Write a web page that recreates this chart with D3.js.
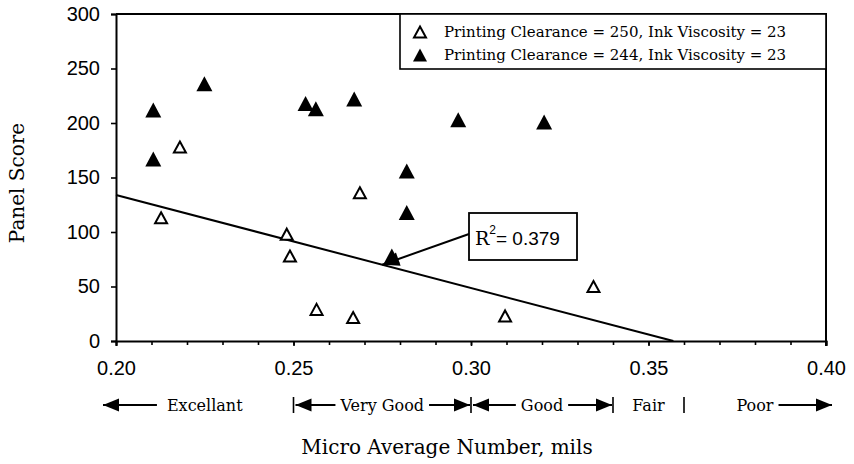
<!DOCTYPE html>
<html><head><meta charset="utf-8">
<script src="https://cdn.jsdelivr.net/npm/d3@7"></script>
<style>
html,body{margin:0;padding:0;background:#fff;}
svg{display:block;}
</style></head><body>
<svg id="chart" width="854" height="464"></svg>
<script>
// Panel score against micro average number for two printing clearances
const clearance250X = [0.2127, 0.2180, 0.2481, 0.2490, 0.2565, 0.2668, 0.2687, 0.3096, 0.3345];
const clearance250Y = [113, 178, 98, 78, 29, 21.5, 136, 23, 50];
const clearance244X = [0.2105, 0.2105, 0.2249, 0.2534, 0.2563, 0.2671, 0.2777, 0.2819, 0.2819, 0.2964, 0.3206];
const clearance244Y = [212, 167, 236, 218, 213, 222, 78, 156, 118, 203, 201];
const seriesLabels = ["Printing Clearance = 250, Ink Viscosity = 23",
                      "Printing Clearance = 244, Ink Viscosity = 23"];
// fitted trend line end points
const trendX = [0.20, 0.357];
const trendY = [134, 0];
const rSquared = "0.379";
const rSquaredTargetX = 0.275;
// axes
const xTicks = [0.20, 0.25, 0.30, 0.35, 0.40];
const yTicks = [0, 50, 100, 150, 200, 250, 300];
const xTitle = "Micro Average Number, mils";
const yTitle = "Panel Score";
// quality rating bands under the axis
const ratingLabels = ["Excellant", "Very Good", "Good", "Fair", "Poor"];
const ratingBounds = [0.20, 0.25, 0.30, 0.34, 0.36, 0.40];
const ratingLeft  = ["arrow", "barArrow", "barArrow", "bar", "none"];
const ratingRight = ["none", "arrow", "arrow", "bar", "arrow"];

const svg = d3.select("#chart");
const W = 854, H = 464;
const m = {left: 116, right: 28, top: 14, bottom: 123};
const x = d3.scaleLinear().domain([0.20, 0.40]).range([m.left, W - m.right]);
const y = d3.scaleLinear().domain([0, 300]).range([H - m.bottom, m.top]);

const SANS = "'Liberation Sans', Arial, sans-serif";
const SERIF = "'DejaVu Serif', serif";

// minor x ticks every 0.01
const minorAxis = d3.axisBottom(x).tickValues(d3.range(0, 21).map(i => 0.20 + i * 0.01))
  .tickSize(4).tickFormat("");
svg.append("g").attr("transform", `translate(0,${y(0)})`).call(minorAxis)
  .call(g => g.select(".domain").remove())
  .call(g => g.selectAll("line").attr("stroke", "#000").attr("stroke-width", 1.6));

const xAxis = d3.axisBottom(x).tickValues(xTicks).tickSize(5).tickPadding(15)
  .tickFormat(d3.format(".2f"));
svg.append("g").attr("transform", `translate(0,${y(0)})`).call(xAxis)
  .call(g => g.select(".domain").attr("stroke", "#000").attr("stroke-width", 2))
  .call(g => g.selectAll("line").attr("stroke", "#000").attr("stroke-width", 1.6))
  .call(g => g.selectAll("text").attr("font-family", SANS).attr("font-size", 20).attr("fill", "#000"));

const yAxis = d3.axisLeft(y).tickValues(yTicks).tickSize(5).tickPadding(11);
svg.append("g").attr("transform", `translate(${x(0.20)},0)`).call(yAxis)
  .call(g => g.select(".domain").attr("stroke", "#000").attr("stroke-width", 2))
  .call(g => g.selectAll("line").attr("stroke", "#000").attr("stroke-width", 1.6))
  .call(g => g.selectAll("text").attr("font-family", SANS).attr("font-size", 20).attr("fill", "#000"));

// frame: top and right edges
svg.append("path")
  .attr("d", `M${x(0.20)},${y(300)}H${x(0.40)}V${y(0) + 5}`)
  .attr("fill", "none").attr("stroke", "#000").attr("stroke-width", 2);

// trend line
svg.append("path")
  .datum(trendX.map((v, i) => [v, trendY[i]]))
  .attr("d", d3.line().x(d => x(d[0])).y(d => y(d[1])))
  .attr("fill", "none").attr("stroke", "#000").attr("stroke-width", 2);

function tri(w, h) {
  return `M0,${-h / 2}L${w / 2},${h / 2}L${-w / 2},${h / 2}Z`;
}

// series markers
svg.append("g").selectAll("path")
  .data(clearance250X.map((v, i) => [v, clearance250Y[i]]))
  .join("path")
  .attr("transform", d => `translate(${x(d[0])},${y(d[1])})`)
  .attr("d", tri(12, 11))
  .attr("fill", "#fff").attr("stroke", "#000").attr("stroke-width", 2).attr("stroke-linejoin", "miter");

svg.append("g").selectAll("path")
  .data(clearance244X.map((v, i) => [v, clearance244Y[i]]))
  .join("path")
  .attr("transform", d => `translate(${x(d[0])},${y(d[1])})`)
  .attr("d", tri(16, 15))
  .attr("fill", "#000");

// R squared callout
const trendAt = v => trendY[0] + (trendY[1] - trendY[0]) * (v - trendX[0]) / (trendX[1] - trendX[0]);
const tipX = x(rSquaredTargetX), tipY = y(trendAt(rSquaredTargetX));
const boxX = 469, boxY = 213, boxW = 108, boxH = 47;
const startX = boxX, startY = boxY + 21;
svg.append("line").attr("x1", startX).attr("y1", startY).attr("x2", tipX).attr("y2", tipY)
  .attr("stroke", "#000").attr("stroke-width", 2);
{
  const ang = Math.atan2(tipY - startY, tipX - startX);
  const L = 17, hw = 7;
  const bx = tipX - L * Math.cos(ang), by = tipY - L * Math.sin(ang);
  const px = -Math.sin(ang) * hw, py = Math.cos(ang) * hw;
  svg.append("path")
    .attr("d", `M${tipX},${tipY}L${bx + px},${by + py}L${bx - px},${by - py}Z`)
    .attr("fill", "#000");
}
svg.append("rect").attr("x", boxX).attr("y", boxY).attr("width", boxW).attr("height", boxH)
  .attr("fill", "#fff").attr("stroke", "#000").attr("stroke-width", 1.8);
const r2 = svg.append("text").attr("x", boxX + 6).attr("y", boxY + 32)
  .attr("font-size", 19).attr("fill", "#000");
r2.append("tspan").attr("font-family", SERIF).text("R");
r2.append("tspan").attr("font-family", SANS).attr("font-size", 12).attr("dy", -11).text("2");
r2.append("tspan").attr("font-family", SANS).attr("dy", 11).text("= " + rSquared);

// legend
const lg = svg.append("g");
lg.append("rect").attr("x", 400).attr("y", y(300)).attr("width", x(0.40) - 400).attr("height", 55)
  .attr("fill", "#fff").attr("stroke", "#000").attr("stroke-width", 1.6);
seriesLabels.forEach((s, i) => {
  const cy = 32 + i * 23;
  lg.append("path").attr("transform", `translate(420,${cy})`)
    .attr("d", i === 0 ? tri(12, 11) : tri(14, 13))
    .attr("fill", i === 0 ? "#fff" : "#000")
    .attr("stroke", i === 0 ? "#000" : "none").attr("stroke-width", 2);
  lg.append("text").attr("x", 444).attr("y", cy).attr("dy", "0.35em")
    .attr("font-family", SERIF).attr("font-size", 15).attr("fill", "#000").text(s);
});

// rating bands
const rowY = 405;
const rg = svg.append("g");
function head(tx, dir) {
  const L = 16, hw = 6.5;
  rg.append("path").attr("d", `M${tx},${rowY}L${tx - dir * L},${rowY - hw}L${tx - dir * L},${rowY + hw}Z`)
    .attr("fill", "#000");
}
function hline(a, b) {
  rg.append("line").attr("x1", a).attr("x2", b).attr("y1", rowY).attr("y2", rowY)
    .attr("stroke", "#000").attr("stroke-width", 2);
}
function bar(bx) {
  rg.append("line").attr("x1", bx).attr("x2", bx).attr("y1", rowY - 8).attr("y2", rowY + 8)
    .attr("stroke", "#000").attr("stroke-width", 1.6);
}
ratingLabels.forEach((lab, i) => {
  const lo = x(ratingBounds[i]), hi = x(ratingBounds[i + 1]);
  const t = rg.append("text").attr("x", (lo + hi) / 2).attr("y", rowY).attr("dy", "0.35em")
    .attr("text-anchor", "middle").attr("font-family", SERIF).attr("font-size", 16)
    .attr("fill", "#000").text(lab);
  const tw = t.node().getComputedTextLength();
  const tl = (lo + hi) / 2 - tw / 2, tr = (lo + hi) / 2 + tw / 2;
  const gap = 5;
  if (ratingLeft[i] === "arrow") { hline(lo - 13, tl - 10); head(lo - 13, -1); }
  if (ratingLeft[i] === "barArrow") { bar(lo); hline(lo + 2, tl - gap); head(lo + 2, -1); }
  if (ratingLeft[i] === "bar") { bar(lo); }
  if (ratingRight[i] === "arrow" && i < ratingLabels.length - 1) { hline(tr + gap, hi - 1); head(hi - 1, 1); }
  if (ratingRight[i] === "arrow" && i === ratingLabels.length - 1) { hline(tr + gap, hi + 6); head(hi + 6, 1); }
  if (ratingRight[i] === "bar") { bar(hi); }
});

// axis titles
svg.append("text").attr("x", 447).attr("y", 447).attr("dy", "0.35em").attr("text-anchor", "middle")
  .attr("font-family", SERIF).attr("font-size", 20).attr("fill", "#000").text(xTitle);
svg.append("text").attr("transform", `translate(17,183) rotate(-90)`).attr("dy", "0.35em")
  .attr("text-anchor", "middle").attr("font-family", SERIF).attr("font-size", 20)
  .attr("fill", "#000").text(yTitle);
</script>
</body></html>
